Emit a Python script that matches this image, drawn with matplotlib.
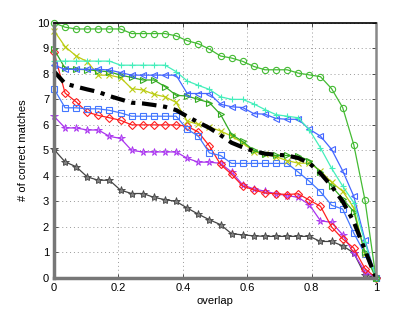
import numpy as np
import matplotlib
matplotlib.use("Agg")
import matplotlib.pyplot as plt

plt.rcParams['font.family'] = ['Liberation Sans', 'DejaVu Sans']

# x grid: 30 overlap thresholds from 0 to 1
overlap = np.linspace(0, 1, 30)

circ = [10, 9.83, 9.76, 9.76, 9.76, 9.76, 9.76, 9.58, 9.58, 9.58,
        9.58, 9.49, 9.3, 9.18, 8.97, 8.7, 8.62, 8.49, 8.29, 8.16,
        8.16, 8.16, 8.03, 7.96, 7.89, 7.42, 6.68, 5.22, 3.07, 0]
plus = [8.5, 8.5, 8.5, 8.5, 8.5, 8.5, 8.34, 8.34, 8.34, 8.34,
        8.34, 8.09, 7.72, 7.55, 7.39, 7.1, 7.0, 7.0, 6.82, 6.6,
        6.4, 6.34, 6.28, 5.8, 5.1, 4.3, 3.6, 2.95, 1.4, 0]
tri_l = [8.34, 8.18, 8.18, 8.18, 8.18, 8.15, 8.05, 7.95, 7.95, 7.95,
         7.95, 7.95, 7.23, 7.23, 7.23, 6.81, 6.71, 6.68, 6.44, 6.42,
         6.25, 6.22, 6.22, 5.83, 5.56, 5.04, 4.2, 3.2, 1.5, 0]
tri_r = [8.97, 8.22, 8.18, 8.16, 8.12, 8.08, 7.95, 7.86, 7.76, 7.76,
         7.5, 7.16, 7.13, 7.0, 6.87, 6.41, 5.62, 5.35, 5.0, 4.85,
         4.8, 4.8, 4.78, 4.6, 4.15, 3.6, 3.1, 2.6, 1.0, 0]
xmark = [9.7, 9.07, 8.7, 8.48, 7.95, 7.95, 7.85, 7.42, 7.37, 7.2,
         7.1, 6.88, 6.15, 6.02, 5.92, 5.76, 5.56, 5.3, 4.95, 4.85,
         4.75, 4.6, 4.5, 4.5, 4.2, 3.75, 3.4, 2.75, 0.95, 0]
mean = [8.1, 7.62, 7.5, 7.39, 7.29, 7.13, 7.0, 6.87, 6.84, 6.78,
        6.71, 6.58, 6.33, 6.1, 5.88, 5.6, 5.3, 5.12, 4.97, 4.87,
        4.83, 4.8, 4.7, 4.5, 4.1, 3.6, 3.0, 2.2, 1.1, 0]
square = [7.42, 6.67, 6.67, 6.63, 6.63, 6.57, 6.47, 6.34, 6.34, 6.34,
          6.34, 6.34, 5.83, 5.56, 4.9, 4.8, 4.49, 4.49, 4.49, 4.49,
          4.49, 4.49, 4.15, 3.79, 3.38, 2.85, 2.7, 1.76, 0.95, 0]
diamond = [8.85, 7.25, 6.9, 6.5, 6.37, 6.28, 6.18, 6.0, 6.0, 6.0,
           6.0, 6.0, 5.95, 5.72, 5.17, 4.45, 4.06, 3.6, 3.45, 3.33,
           3.3, 3.27, 3.3, 3.05, 2.81, 2.0, 1.53, 1.17, 0.37, 0]
aster = [6.34, 5.88, 5.88, 5.8, 5.8, 5.55, 5.47, 5.0, 4.94, 4.94,
         4.94, 4.94, 4.69, 4.54, 4.54, 4.49, 4.15, 3.65, 3.49, 3.4,
         3.3, 3.23, 3.16, 2.87, 2.24, 2.18, 1.69, 0.97, 0.25, 0]
star = [5.04, 4.55, 4.36, 3.96, 3.83, 3.83, 3.44, 3.31, 3.31, 3.16,
        3.07, 3.0, 2.74, 2.5, 2.28, 2.09, 1.73, 1.69, 1.65, 1.63,
        1.63, 1.63, 1.63, 1.63, 1.43, 1.43, 1.26, 0.98, 0.12, 0]

fig = plt.figure(figsize=(4.15, 3.13), dpi=100)
ax = fig.add_axes([0.130, 0.112, 0.776, 0.815])

kw = dict(lw=0.9, ms=4.5, mfc='none', mew=0.8, clip_on=False)
ax.plot(overlap, star, color='#444444', marker='*', mfc='#808080', lw=0.9, ms=6, mew=0.6, clip_on=False)
ax.plot(overlap, aster, color='#aa33ee', marker='*', mfc='#cc88ff', lw=0.9, ms=5.5, mew=0.6, clip_on=False)
ax.plot(overlap, diamond, color='#ff2020', marker='D', **{**kw, 'ms': 4.0})
ax.plot(overlap, square, color='#4477ff', marker='s', **{**kw, 'ms': 4.2})
ax.plot(overlap, xmark, color='#bbcc11', marker='x', **kw)
ax.plot(overlap, tri_r, color='#33aa22', marker='>', **kw)
ax.plot(overlap, tri_l, color='#4466ff', marker='<', **kw)
ax.plot(overlap, plus, color='#44eebb', marker='+', **kw)
ax.plot(overlap, circ, color='#44bb33', marker='o', **kw)
ax.plot(overlap, mean, color='black', lw=3, ls=(0, (3.5, 1.6, 1, 1.6)), clip_on=False)

ax.set_xlim(0, 1)
ax.set_ylim(0, 10)
ax.set_xticks([0, 0.2, 0.4, 0.6, 0.8, 1])
ax.set_xticklabels(['0', '0.2', '0.4', '0.6', '0.8', '1'])
ax.set_yticks(range(0, 11))
ax.tick_params(direction='in', length=3, labelsize=8, width=0.6,
               top=True, right=True, colors='#333333', labelcolor='black')
ax.grid(True, ls=(0, (1, 3)), color='#999999', lw=0.7)
ax.set_axisbelow(True)

for s in ['left', 'bottom']:
    ax.spines[s].set_color('#777777')
    ax.spines[s].set_linewidth(2.5)
ax.spines['right'].set_color('#888888')
ax.spines['right'].set_linewidth(1.8)
ax.spines['top'].set_color('black')
ax.spines['top'].set_linewidth(1.2)

ax.set_xlabel('overlap', fontsize=8, labelpad=2)
ax.set_ylabel('# of correct matches', fontsize=8, labelpad=6)

fig.savefig('out.png', dpi=100)
